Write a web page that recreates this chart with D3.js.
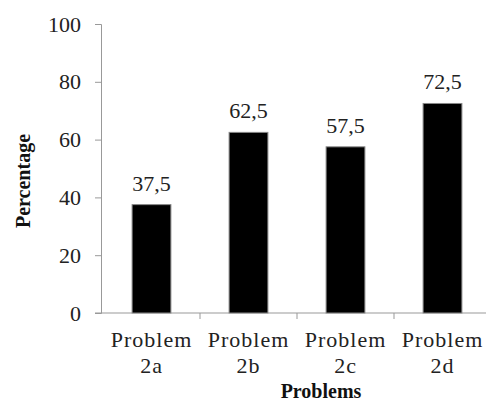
<!DOCTYPE html>
<html>
<head>
<meta charset="utf-8">
<script src="https://cdn.jsdelivr.net/npm/d3@7"></script>
<style>
  body { margin: 0; background: #fff; }
</style>
</head>
<body>
<div id="chart"></div>
<script>
var problems = ['Problem 2a', 'Problem 2b', 'Problem 2c', 'Problem 2d'];
var percentages = [37.5, 62.5, 57.5, 72.5];
var yTicks = [0, 20, 40, 60, 80, 100];

var serif = '"Liberation Serif", "Times New Roman", Times, serif';
var width = 486, height = 401;
var svg = d3.select('#chart')
    .append('svg')
    .attr('width', width)
    .attr('height', height)
    .attr('font-family', serif);

var x = d3.scaleBand()
    .domain(problems)
    .range([103, 491])
    .paddingInner(0.6)
    .paddingOuter(0.3);

var y = d3.scaleLinear()
    .domain([0, 100])
    .range([313, 24]);

// y axis
var yAxis = svg.append('g')
    .attr('transform', 'translate(101,0)')
    .call(d3.axisLeft(y).tickValues(yTicks).tickSize(6).tickPadding(14));
yAxis.attr('font-family', serif).attr('font-size', 22);
yAxis.select('.domain').attr('stroke', '#999');
yAxis.selectAll('.tick line').attr('stroke', '#999');
yAxis.selectAll('.tick text').attr('fill', '#222');

// x axis with ticks at the band edges
var edges = problems.map(function(p) { return x(p) - x.step() * x.paddingOuter(); });
var xg = svg.append('g').attr('transform', 'translate(0,313)');
xg.append('line')
    .attr('x1', 95).attr('x2', 491)
    .attr('stroke', '#999');
xg.selectAll('line.tk')
    .data(edges.slice(1))
    .enter().append('line')
    .attr('class', 'tk')
    .attr('x1', function(d) { return d; })
    .attr('x2', function(d) { return d; })
    .attr('y1', 0).attr('y2', 6)
    .attr('stroke', '#999');

var labels = xg.selectAll('text.cat')
    .data(problems)
    .enter().append('text')
    .attr('class', 'cat')
    .attr('text-anchor', 'middle')
    .attr('font-size', 22)
    .attr('letter-spacing', 1)
    .attr('fill', '#222')
    .attr('transform', function(d) { return 'translate(' + (x(d) + x.bandwidth() / 2) + ',0)'; });
labels.append('tspan').attr('x', 0).attr('y', 34).text(function(d) { return d.split(' ')[0]; });
labels.append('tspan').attr('x', 0).attr('y', 60).text(function(d) { return d.split(' ')[1]; });

// bars
svg.selectAll('rect.bar')
    .data(percentages)
    .enter().append('rect')
    .attr('class', 'bar')
    .attr('x', function(d, i) { return x(problems[i]); })
    .attr('y', function(d) { return y(d); })
    .attr('width', x.bandwidth())
    .attr('height', function(d) { return y(0) - y(d); })
    .attr('fill', '#000')
    .attr('stroke', '#888')
    .attr('stroke-width', 1);

svg.selectAll('text.val')
    .data(percentages)
    .enter().append('text')
    .attr('class', 'val')
    .attr('text-anchor', 'middle')
    .attr('font-size', 22)
    .attr('fill', '#222')
    .attr('x', function(d, i) { return x(problems[i]) + x.bandwidth() / 2; })
    .attr('y', function(d) { return y(d) - 14; })
    .text(function(d) { return String(d).replace('.', ','); });

// axis titles
svg.append('text')
    .attr('transform', 'translate(30,181) rotate(-90)')
    .attr('text-anchor', 'middle')
    .attr('font-size', 20)
    .attr('font-weight', 'bold')
    .attr('fill', '#111')
    .text('Percentage');

svg.append('text')
    .attr('x', 321).attr('y', 398)
    .attr('text-anchor', 'middle')
    .attr('font-size', 20)
    .attr('font-weight', 'bold')
    .attr('fill', '#111')
    .text('Problems');
</script>
</body>
</html>
